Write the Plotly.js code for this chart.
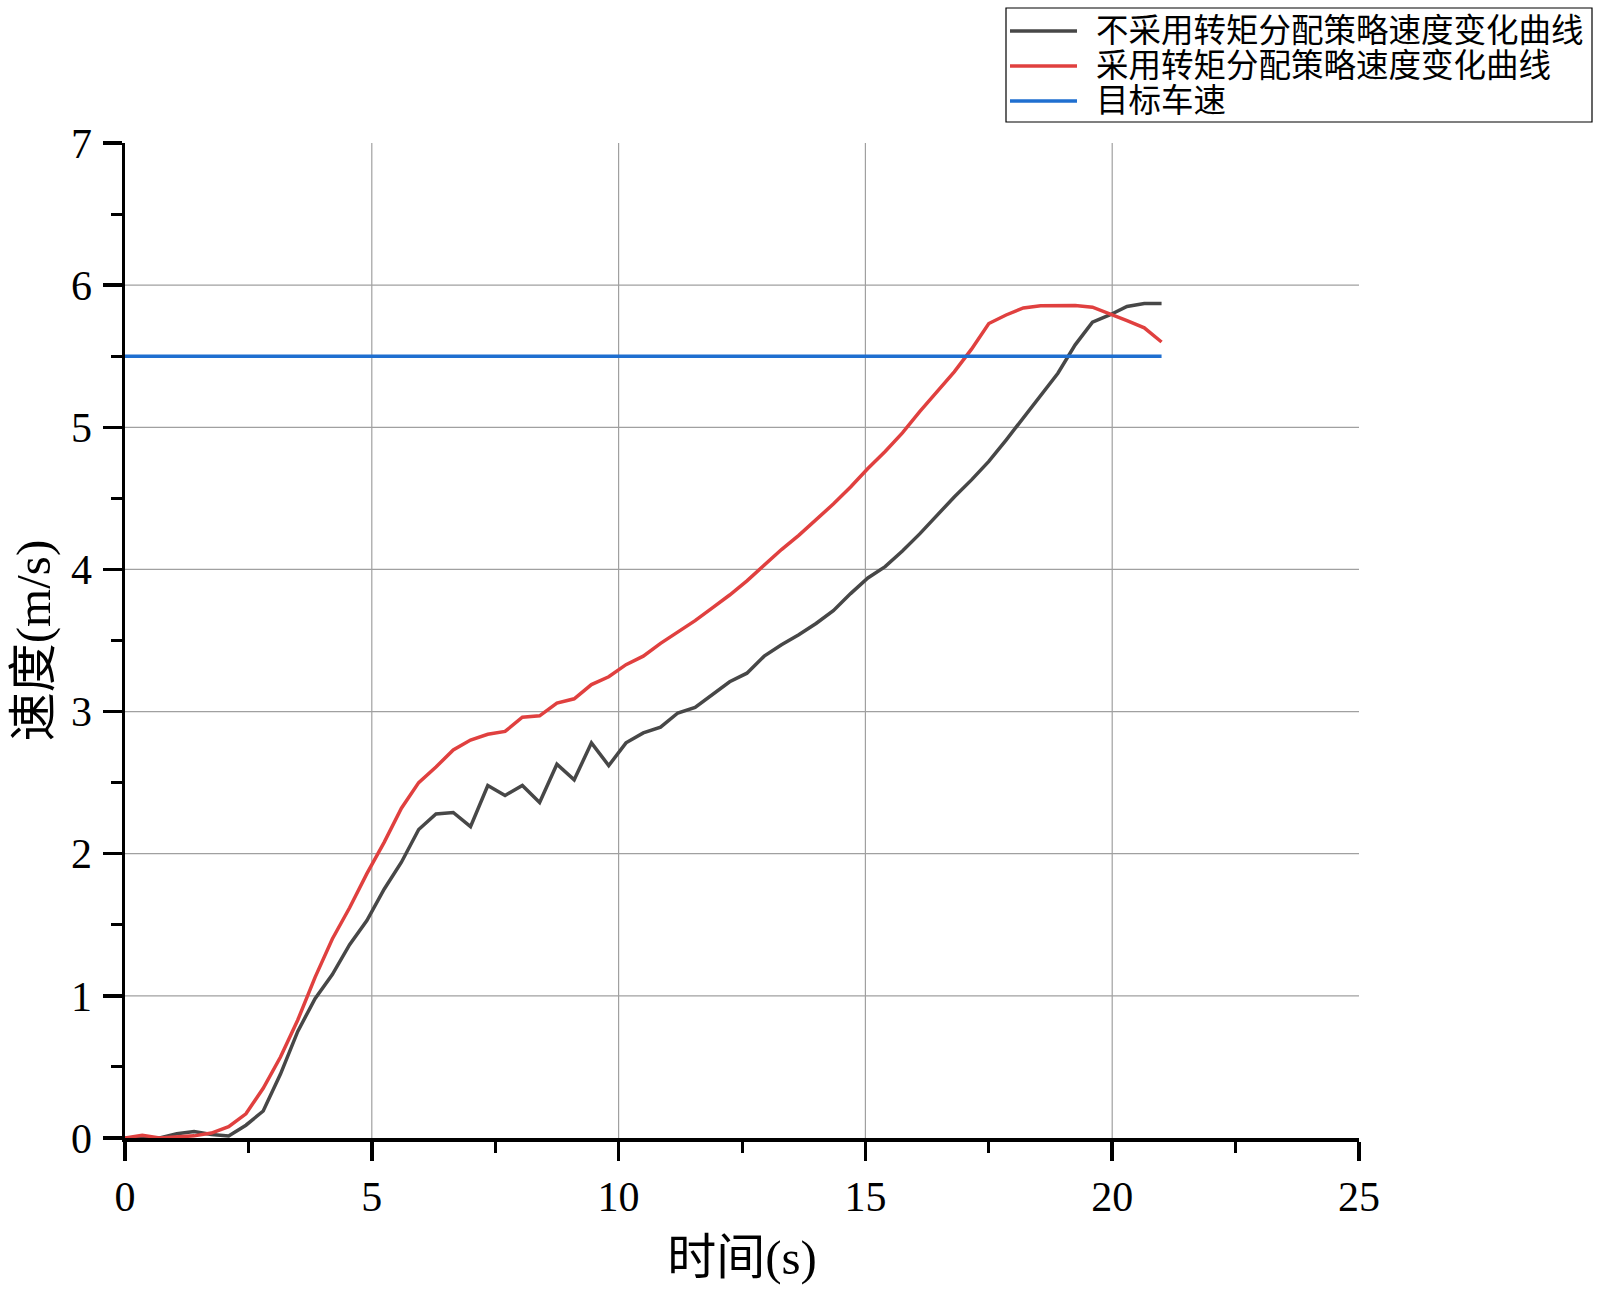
<!DOCTYPE html>
<html>
<head>
<meta charset="utf-8">
<script src="https://cdn.plot.ly/plotly-3.0.1.min.js"></script>
<style>html,body{margin:0;padding:0;background:#fff;}#chart{width:1600px;height:1291px;}</style>
</head>
<body>
<div id="chart"></div>
<script>
// time (s)
const time = [0,0.35,0.7,1.05,1.4,1.75,2.1,2.45,2.8,3.15,3.5,3.85,4.2,4.55,4.9,5.25,5.6,5.95,6.3,6.65,7,7.35,7.7,8.05,8.4,8.75,9.1,9.45,9.8,10.15,10.5,10.85,11.2,11.55,11.9,12.25,12.6,12.95,13.3,13.65,14,14.35,14.7,15.05,15.4,15.75,16.1,16.45,16.8,17.15,17.5,17.85,18.2,18.55,18.9,19.25,19.6,19.95,20.3,20.65,21];
// speed without torque distribution (m/s)
const speedWithout = [0,0,0,0.03,0.045,0.025,0.015,0.09,0.19,0.45,0.75,0.98,1.15,1.36,1.53,1.75,1.94,2.17,2.28,2.29,2.19,2.48,2.41,2.48,2.36,2.63,2.52,2.78,2.62,2.78,2.85,2.89,2.99,3.03,3.12,3.21,3.27,3.39,3.47,3.54,3.62,3.71,3.83,3.94,4.02,4.13,4.25,4.38,4.51,4.63,4.76,4.91,5.07,5.22,5.38,5.58,5.74,5.79,5.85,5.87,5.87];
// speed with torque distribution (m/s)
const speedWith = [0,0.02,0,0.01,0.015,0.035,0.08,0.17,0.35,0.57,0.83,1.13,1.40,1.62,1.86,2.08,2.32,2.50,2.61,2.73,2.80,2.84,2.86,2.96,2.97,3.06,3.09,3.19,3.245,3.33,3.39,3.48,3.56,3.64,3.73,3.82,3.92,4.03,4.14,4.24,4.35,4.46,4.58,4.71,4.83,4.96,5.11,5.25,5.39,5.55,5.73,5.79,5.84,5.855,5.856,5.856,5.845,5.80,5.75,5.70,5.60];
// target speed
const targetTime = [0,21];
const targetSpeed = [5.5,5.5];

const names = ['不采用转矩分配策略速度变化曲线','采用转矩分配策略速度变化曲线','目标车速'];
const colors = ['#474747','#e0403f','#1f6fd0'];
const xGrid = [5,10,15,20];
const yGrid = [1,2,3,4,5,6];
const xTicks = [0,5,10,15,20,25];
const yTicks = [0,1,2,3,4,5,6,7];

const FONT = 'Liberation Serif, "Noto Sans CJK SC", serif';
const W = 1600, H = 1291;
const M = {l: 125, r: 241, t: 143, b: 153};
const px2x = px => (px - M.l) / (W - M.l - M.r);
const px2y = py => (H - M.b - py) / (H - M.t - M.b);

const series = [time, time, targetTime];
const values = [speedWithout, speedWith, targetSpeed];
const traces = names.map((n, i) => ({
  x: series[i], y: values[i], name: n, type: 'scatter', mode: 'lines',
  line: {color: colors[i], width: 3.5}, showlegend: false
}));

const shapes = [];
xGrid.forEach(v => shapes.push({type: 'line', layer: 'below', xref: 'x', yref: 'y', x0: v, x1: v, y0: 0, y1: 7, line: {color: '#a0a0a0', width: 1.2}}));
yGrid.forEach(v => shapes.push({type: 'line', layer: 'below', xref: 'x', yref: 'y', x0: 0, x1: 25, y0: v, y1: v, line: {color: '#a0a0a0', width: 1.2}}));
// x axis line extension to the left of the y axis
shapes.push({type: 'line', layer: 'above', xref: 'paper', yref: 'y', x0: px2x(M.l - 19), x1: 0, y0: 0, y1: 0, line: {color: '#000', width: 3.5}});

// legend box (drawn in paper space)
const legBox = {x0: 1006, x1: 1592, y0: 8, y1: 122};
const legRows = [31, 66, 101];
const legLine = [1010, 1077];
const legText = 1094;
shapes.push({type: 'rect', xref: 'paper', yref: 'paper', layer: 'above',
  x0: px2x(legBox.x0), x1: px2x(legBox.x1), y0: px2y(legBox.y1), y1: px2y(legBox.y0),
  line: {color: '#000', width: 1.2}, fillcolor: '#fff'});
const annotations = [];
names.forEach((n, i) => {
  shapes.push({type: 'line', xref: 'paper', yref: 'paper', layer: 'above',
    x0: px2x(legLine[0]), x1: px2x(legLine[1]), y0: px2y(legRows[i]), y1: px2y(legRows[i]),
    line: {color: colors[i], width: 3.5}});
  annotations.push({xref: 'paper', yref: 'paper', x: px2x(legText), y: px2y(legRows[i]),
    xanchor: 'left', yanchor: 'middle', showarrow: false, text: n,
    font: {family: FONT, size: 32.5, color: '#000'}});
});

const layout = {
  width: W, height: H,
  paper_bgcolor: '#fff', plot_bgcolor: '#fff',
  margin: M,
  font: {family: FONT, color: '#000'},
  showlegend: false,
  xaxis: {
    range: [0, 25], tickvals: xTicks, ticktext: xTicks.map(String),
    showgrid: false, zeroline: false,
    showline: true, linecolor: '#000', linewidth: 3.5,
    ticks: 'outside', ticklen: 19, tickwidth: 3.5, tickcolor: '#000',
    minor: {dtick: 2.5, tick0: 0, ticks: 'outside', ticklen: 11, tickwidth: 3, tickcolor: '#000', showgrid: false},
    tickfont: {family: FONT, size: 42, color: '#000'},
    ticklabelstandoff: 0,
    title: {text: '时间(s)', font: {family: FONT, size: 49, color: '#000'}, standoff: 22},
    automargin: false, fixedrange: true
  },
  yaxis: {
    range: [0, 7], tickvals: yTicks, ticktext: yTicks.map(String),
    showgrid: false, zeroline: false,
    showline: true, linecolor: '#000', linewidth: 3.5,
    ticks: 'outside', ticklen: 19, tickwidth: 3.5, tickcolor: '#000',
    minor: {dtick: 0.5, tick0: 0, ticks: 'outside', ticklen: 11, tickwidth: 3, tickcolor: '#000', showgrid: false},
    tickfont: {family: FONT, size: 42, color: '#000'},
    ticklabelstandoff: 2,
    title: {text: '速度(m/s)', font: {family: FONT, size: 49, color: '#000'}, standoff: 6},
    automargin: false, fixedrange: true
  },
  shapes: shapes,
  annotations: annotations
};

Plotly.newPlot('chart', traces, layout, {staticPlot: true, displayModeBar: false});
</script>
</body>
</html>
